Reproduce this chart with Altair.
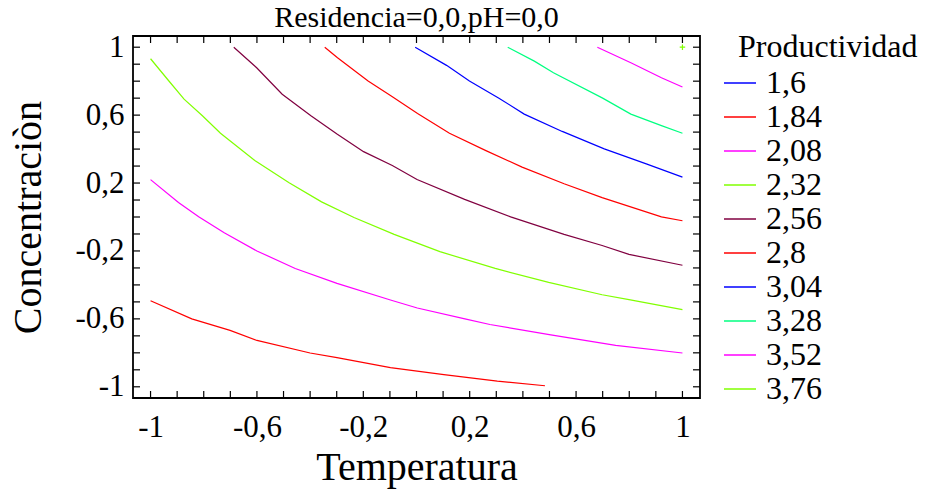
import altair as alt
import pandas as pd

# ---------------- data ----------------
LEVELS = ["1,6", "1,84", "2,08", "2,32", "2,56", "2,8", "3,04", "3,28", "3,52", "3,76"]
COLORS = ["#0000FF", "#FF0000", "#FF00FF", "#80FF00", "#800040",
          "#FF0000", "#0000FF", "#00FF80", "#FF00FF", "#80FF00"]

# contour lines: Temperatura (x) and Concentraciòn (y)
L184_X = [-1.0, -0.845, -0.701, -0.6, -0.4, -0.299, -0.098, 0.103, 0.304, 0.483]
L184_Y = [-0.493, -0.6, -0.668, -0.727, -0.801, -0.828, -0.887, -0.928, -0.967, -0.994]

L208_X = [-1.0, -0.895, -0.819, -0.723, -0.6, -0.456, -0.299, -0.098, 0.003, 0.182, 0.276, 0.505, 0.749, 1.0]
L208_Y = [0.220, 0.085, 0.001, -0.093, -0.2, -0.303, -0.391, -0.489, -0.536, -0.6, -0.633, -0.694, -0.756, -0.801]

L232_X = [-1.0, -0.931, -0.874, -0.805, -0.737, -0.608, -0.479, -0.357, -0.235, -0.084, 0.088, 0.296, 0.497, 0.698, 0.799, 1.0]
L232_Y = [0.932, 0.801, 0.694, 0.596, 0.493, 0.333, 0.202, 0.089, -0.003, -0.102, -0.204, -0.303, -0.385, -0.458, -0.487, -0.545]

L256_X = [-0.687, -0.601, -0.505, -0.397, -0.299, -0.199, -0.091, 0.002, 0.181, 0.354, 0.555, 0.698, 0.799, 1.0]
L256_Y = [1.0, 0.879, 0.723, 0.596, 0.489, 0.385, 0.303, 0.221, 0.104, 0.001, -0.102, -0.168, -0.22, -0.284]

L28_X = [-0.345, -0.297, -0.182, -0.095, 0.004, 0.124, 0.261, 0.397, 0.555, 0.698, 0.921, 1.0]
L28_Y = [1.0, 0.938, 0.801, 0.713, 0.610, 0.493, 0.391, 0.294, 0.196, 0.114, 0.001, -0.022]

L304_X = [-0.005, 0.113, 0.199, 0.31, 0.405, 0.548, 0.706, 0.864, 1.0]
L304_Y = [1.0, 0.893, 0.801, 0.70, 0.606, 0.504, 0.401, 0.313, 0.235]

L328_X = [0.343, 0.443, 0.515, 0.70, 0.806, 0.921, 1.0]
L328_Y = [1.0, 0.918, 0.85, 0.70, 0.606, 0.538, 0.493]

L352_X = [0.68, 0.806, 0.921, 1.0]
L352_Y = [1.0, 0.908, 0.82, 0.766]

L376_X = [1.0]
L376_Y = [1.0]

AXIS_LABELS = [-1.0, -0.6, -0.2, 0.2, 0.6, 1.0]
MINOR_TICKS = [-1.0, -0.9, -0.8, -0.7, -0.6, -0.5, -0.4, -0.3, -0.2, -0.1, 0.0,
               0.1, 0.2, 0.3, 0.4, 0.5, 0.6, 0.7, 0.8, 0.9, 1.0]

# ---------------- tables ----------------
series = [("1,84", L184_X, L184_Y), ("2,08", L208_X, L208_Y), ("2,32", L232_X, L232_Y),
          ("2,56", L256_X, L256_Y), ("2,8", L28_X, L28_Y), ("3,04", L304_X, L304_Y),
          ("3,28", L328_X, L328_Y), ("3,52", L352_X, L352_Y)]
rows = []
for lev, xs_, ys_ in series:
    for i, (a, b) in enumerate(zip(xs_, ys_)):
        rows.append({"level": lev, "i": i, "x": a, "y": b})
df = pd.DataFrame(rows)
df_pt = pd.DataFrame({"level": ["3,76"] * len(L376_X), "x": L376_X, "y": L376_Y})
df_ticks = pd.DataFrame({"x": MINOR_TICKS, "y": MINOR_TICKS})

W, H = 567, 362
FONT = "Liberation Serif"
DOM = [-1.066, 1.066]
xs = alt.Scale(domain=DOM, nice=False, zero=False)
ys = alt.Scale(domain=DOM, nice=False, zero=False)
LBL = "(datum.value < 0 ? '-' : '') + replace(format(abs(datum.value), '.1~f'), '.', ',')"
XAX = alt.Axis(values=AXIS_LABELS, labelExpr=LBL, labelPadding=14, titlePadding=5)
YAX = alt.Axis(values=AXIS_LABELS, labelExpr=LBL, labelPadding=9, titlePadding=26)
XT = "Temperatura"
YT = "Concentraciòn"

lines = alt.Chart(df).mark_line(strokeWidth=1.2).encode(
    x=alt.X("x:Q", scale=xs, title=XT, axis=XAX),
    y=alt.Y("y:Q", scale=ys, title=YT, axis=YAX),
    color=alt.Color("level:N", scale=alt.Scale(domain=LEVELS, range=COLORS),
                    legend=alt.Legend(title="Productividad", orient="none",
                                      legendX=605, legendY=-4,
                                      symbolType="stroke", symbolSize=1024,
                                      symbolStrokeWidth=1.5, symbolOffset=-15,
                                      labelOffset=9, rowPadding=1, titlePadding=2,
                                      titleFont=FONT, titleFontSize=32, titleFontWeight="normal",
                                      titleColor="black", labelFont=FONT, labelFontSize=32,
                                      labelColor="black")),
    order="i:Q",
)

plus = alt.Chart(df_pt).mark_point(shape="M-1,0L1,0M0,-1L0,1", size=30, filled=False,
                                   strokeWidth=1.2, opacity=1).encode(
    x=alt.X("x:Q", scale=xs, title=XT, axis=XAX),
    y=alt.Y("y:Q", scale=ys, title=YT, axis=YAX),
    color=alt.value(COLORS[9]),
)

TL = 7
tick_b = alt.Chart(df_ticks).mark_rule(color="black", strokeWidth=1.2).encode(
    x=alt.X("x:Q", scale=xs, title=XT, axis=XAX), y=alt.value(H), y2=alt.value(H - TL))
tick_t = alt.Chart(df_ticks).mark_rule(color="black", strokeWidth=1.2).encode(
    x=alt.X("x:Q", scale=xs, title=XT, axis=XAX), y=alt.value(0), y2=alt.value(TL))
tick_l = alt.Chart(df_ticks).mark_rule(color="black", strokeWidth=1.2).encode(
    y=alt.Y("y:Q", scale=ys, title=YT, axis=YAX), x=alt.value(0), x2=alt.value(TL))
tick_r = alt.Chart(df_ticks).mark_rule(color="black", strokeWidth=1.2).encode(
    y=alt.Y("y:Q", scale=ys, title=YT, axis=YAX), x=alt.value(W), x2=alt.value(W - TL))

chart = alt.layer(lines, plus, tick_b, tick_t, tick_l, tick_r).properties(
    width=W, height=H,
    title=alt.TitleParams("Residencia=0,0,pH=0,0", font=FONT, fontSize=30,
                          fontWeight="normal", color="black", anchor="middle",
                          frame="group", offset=0, dy=2),
    autosize=alt.AutoSizeParams(type="none"),
    padding={"left": 133, "top": 36, "right": 232, "bottom": 98},
).configure_view(stroke="black", strokeWidth=1.8).configure_axis(
    domain=False, ticks=False, grid=False,
    labelFont=FONT, labelFontSize=31, labelColor="black",
    titleFont=FONT, titleFontSize=40, titleFontWeight="normal", titleColor="black",
)

chart.save("out.html", embed_options={"renderer": "svg", "actions": False})
